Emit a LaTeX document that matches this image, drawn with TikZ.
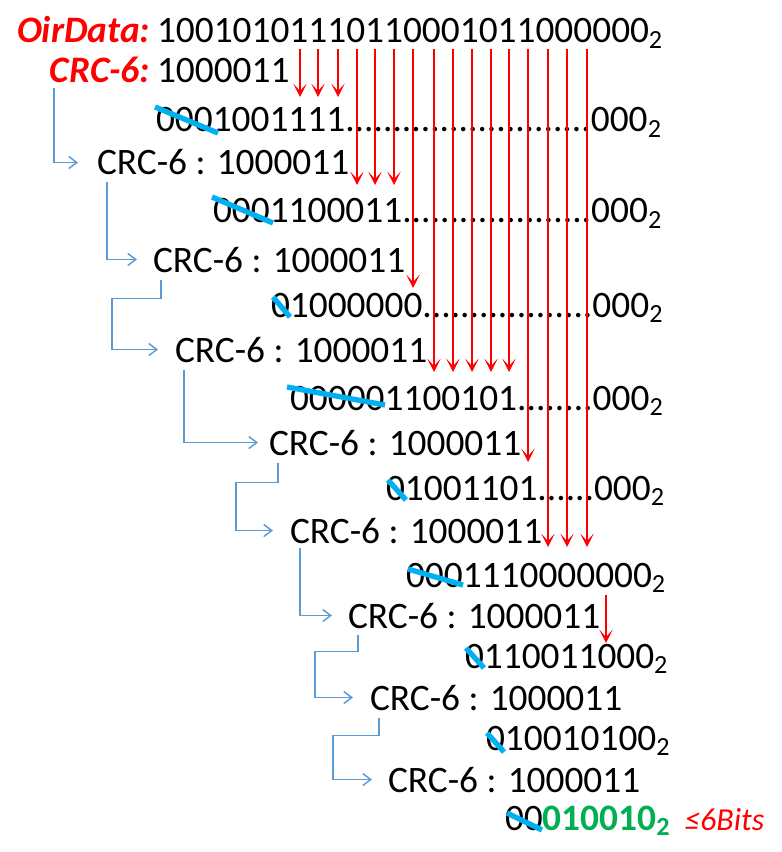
\documentclass[tikz,border=0pt]{standalone}
\usepackage{fontspec}
\setmainfont{Carlito}
\usetikzlibrary{arrows.meta}
\definecolor{arrred}{HTML}{FF0000}
\definecolor{connblue}{HTML}{5B9BD5}
\definecolor{slashcyan}{HTML}{00B0F0}
\definecolor{remgreen}{HTML}{00B050}
\newlength\digw
\newcommand\dotcols[1]{\settowidth\digw{0}\hbox to #1\digw{\xleaders\hbox{.}\hfill}}
\newcommand\bin{\textsubscript{2}}
\begin{document}
\begin{tikzpicture}[x=0.75pt,y=-0.75pt,
  txt/.style={inner sep=0pt,outer sep=0pt,anchor=base west,font=\fontsize{28}{30}\selectfont},
  lbl/.style={inner sep=0pt,outer sep=0pt,anchor=base east,text=arrred,font=\fontsize{28}{30}\selectfont\bfseries\itshape},
  redarr/.style={draw=arrred,line width=1.3pt,-{Stealth[length=10pt,width=10pt,inset=5.5pt]}},
  bconn/.style={draw=connblue,line width=1.1pt,-{Straight Barb[length=6pt,width=9pt]}},
  strike/.style={draw=slashcyan,line width=4pt}]
\useasboundingbox (0,0) rectangle (781,852);
% texts
\node[lbl] (lab1) at (150,43) {OirData:};
\node[txt] (data) at (157,43) {10010101110110001011000000\bin};
\node[lbl] (c2) at (150,83) {CRC-6:};
\node[txt] (p2) at (157,83) {1000011};
\node[txt] (r3) at (156,132) {0001001111\dotcols{13}000\bin};
\node[txt] (c4) at (97,175) {CRC-6 : 1000011};
\node[txt] (r5) at (213,223) {0001100011\dotcols{10}000\bin};
\node[txt] (c6) at (153,272) {CRC-6 : 1000011};
\node[txt] (r7) at (271,317) {01000000\dotcols{9}000\bin};
\node[txt] (c8) at (175,362) {CRC-6 : 1000011};
\node[txt] (r9) at (290,410) {000001100101\dotcols{4}000\bin};
\node[txt] (c10) at (269,455) {CRC-6 : 1000011};
\node[txt] (r11) at (386,500) {01001101\dotcols{3}000\bin};
\node[txt] (c12) at (290,543) {CRC-6 : 1000011};
\node[txt] (r13) at (406,587) {0001110000000\bin};
\node[txt] (c14) at (348,628) {CRC-6 : 1000011};
\node[txt] (r15) at (465,668) {0110011000\bin};
\node[txt] (c16) at (370,710) {CRC-6 : 1000011};
\node[txt] (r17) at (486,750) {010010100\bin};
\node[txt] (c18) at (388,792) {CRC-6 : 1000011};
\node[txt] (r19) at (505,830) {00\textcolor{remgreen}{\bfseries 010010\bin}};
\node[anchor=base west,inner sep=0pt,text=arrred,font=\fontsize{24}{26}\selectfont\itshape] (note) at (684,830) {≤6Bits};
% red bring-down arrows
\foreach \x in {300,318,338} \draw[redarr] (\x,49) -- (\x,97);
\foreach \x in {357,375,394} \draw[redarr] (\x,49) -- (\x,185);
\draw[redarr] (413,49) -- (413,288);
\foreach \x in {434,453,472,491,509} \draw[redarr] (\x,49) -- (\x,372);
\draw[redarr] (528,49) -- (528,462);
\foreach \x in {548,567,587} \draw[redarr] (\x,49) -- (\x,547);
\draw[redarr] (606,595) -- (606,643);
% blue connectors
\draw[bconn] ([shift={(4,5)}]c2.south west) |- ([shift={(-19,0)}]c4.west);
\draw[bconn] ([shift={(10,7)}]c4.south west) |- ([shift={(-16,0)}]c6.west);
\draw[bconn] ([shift={(8,8)}]c6.south west) -- ++(0,18) -| ([shift={(-63,0)}]c8.west) -- ([shift={(-17,0)}]c8.west);
\draw[bconn] ([shift={(9,8)}]c8.south west) |- ([shift={(-11,0)}]c10.west);
\draw[bconn] ([shift={(9,8)}]c10.south west) -- ++(0,19) -| ([shift={(-54,0)}]c12.west) -- ([shift={(-17,0)}]c12.west);
\draw[bconn] ([shift={(10,5)}]c12.south west) |- ([shift={(-16,0)}]c14.west);
\draw[bconn] ([shift={(10,7)}]c14.south west) -- ++(0,16) -| ([shift={(-55,0)}]c16.west) -- ([shift={(-17,0)}]c16.west);
\draw[bconn] ([shift={(9,8)}]c16.south west) -- ++(0,17) -| ([shift={(-55,0)}]c18.west) -- ([shift={(-16,0)}]c18.west);
% cyan strike-throughs
\draw[strike] (155,107) -- (218,133);
\draw[strike] (212,197) -- (273,223);
\draw[strike] (273,297) -- (290,317);
\draw[strike] (287,387) -- (385,405);
\draw[strike] (388,480) -- (406,500);
\draw[strike] (408,569) -- (463,585);
\draw[strike] (466,648) -- (484,668);
\draw[strike] (487,733) -- (504,752);
\draw[strike] (507,813) -- (542,830);
\end{tikzpicture}
\end{document}
